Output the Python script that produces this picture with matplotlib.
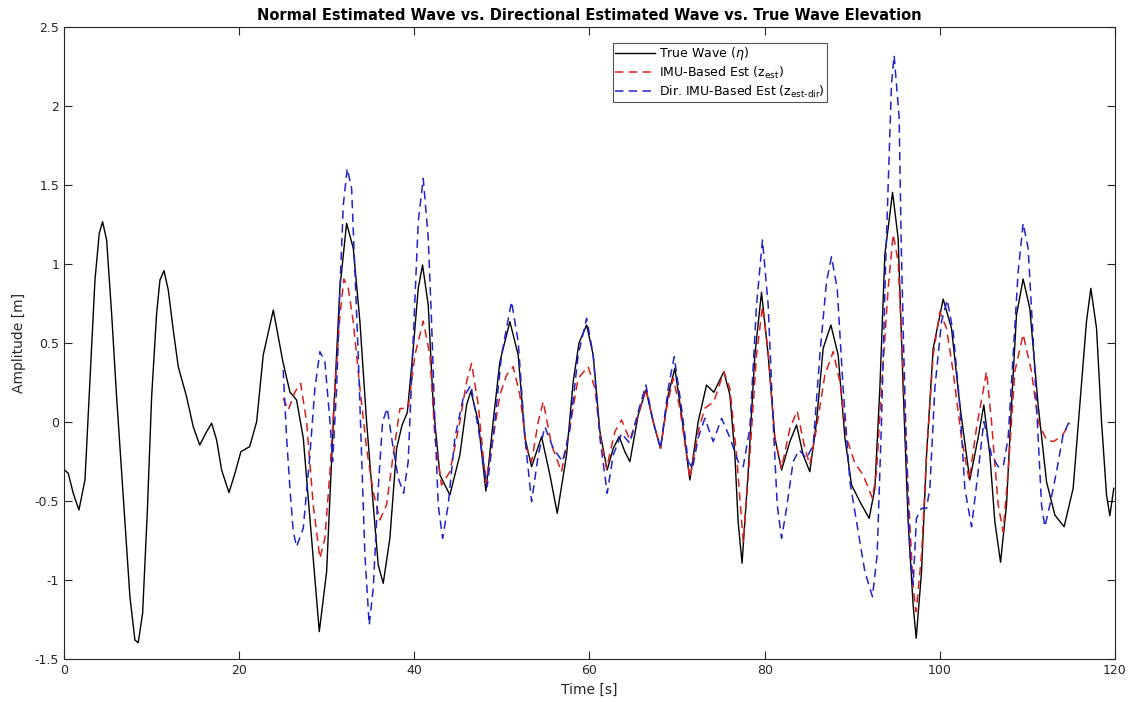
import matplotlib
matplotlib.use("Agg")
import matplotlib.pyplot as plt

# ---- data: true wave elevation (t [s], eta [m]) ----
true_t = [0.0, 0.49, 1.06, 1.71, 2.4, 2.97, 3.54, 4.03, 4.41, 4.87, 5.44, 6.01, 6.77, 7.53, 8.1, 8.48,
          8.98, 9.51, 10.01, 10.58, 10.96, 11.42, 11.91, 12.48, 13.05, 14.0, 14.76, 15.5, 16.29, 16.86,
          17.43, 18.0, 18.84, 19.52, 20.2, 21.2, 22.0, 22.75, 23.9, 25.0, 25.8, 26.56, 27.32, 28.27,
          29.15, 29.99, 30.75, 31.5, 32.27, 33.03, 33.79, 34.55, 35.31, 35.88, 36.45, 37.21, 37.98,
          38.6, 39.2, 39.88, 40.45, 40.94, 41.59, 42.16, 42.92, 44.06, 45.2, 45.97, 46.46, 47.3, 48.17,
          49.0, 49.77, 50.91, 51.86, 52.63, 53.39, 54.53, 55.48, 56.32, 57.38, 58.14, 58.8, 59.67,
          60.42, 61.19, 62.02, 62.71, 63.39, 64.04, 64.61, 65.56, 66.44, 67.27, 68.11, 68.99, 69.75,
          70.51, 71.46, 72.41, 73.36, 74.2, 75.34, 76.03, 76.6, 76.97, 77.42, 78.12, 78.88, 79.64,
          80.4, 81.16, 81.93, 82.88, 83.64, 84.4, 85.16, 85.92, 86.68, 87.56, 88.39, 89.16, 89.92,
          90.87, 91.93, 92.58, 93.15, 93.72, 94.6, 95.24, 95.81, 96.38, 96.95, 97.3, 97.91, 98.48,
          99.24, 100.38, 101.33, 102.28, 103.42, 104.37, 105.02, 105.71, 106.28, 106.93, 107.61,
          108.18, 108.75, 109.51, 110.27, 111.22, 112.18, 113.13, 114.19, 115.22, 115.98, 116.74,
          117.24, 117.89, 118.46, 119.03, 119.41, 119.86]
true_eta = [-0.30, -0.325, -0.451, -0.557, -0.367, 0.266, 0.899, 1.194, 1.268, 1.152, 0.688, 0.16,
            -0.473, -1.106, -1.38, -1.397, -1.211, -0.578, 0.16, 0.688, 0.899, 0.958, 0.835, 0.582,
            0.35, 0.16, -0.03, -0.146, -0.061, -0.008, -0.114, -0.304, -0.447, -0.325, -0.188,
            -0.156, 0.002, 0.424, 0.709, 0.38, 0.19, 0.139, -0.10, -0.736, -1.327, -0.947, 0.002,
            0.846, 1.257, 1.10, 0.635, 0.002, -0.525, -0.905, -1.021, -0.736, -0.167, -0.02, 0.06,
            0.466, 0.846, 0.994, 0.74, 0.108, -0.335, -0.462, -0.209, 0.108, 0.196, 0.002, -0.437,
            0.002, 0.382, 0.635, 0.424, -0.10, -0.283, -0.093, -0.335, -0.578, -0.209, 0.255, 0.50,
            0.614, 0.424, -0.061, -0.304, -0.167, -0.093, -0.188, -0.251, 0.044, 0.203, 0.002,
            -0.167, 0.171, 0.34, 0.044, -0.367, 0.002, 0.234, 0.188, 0.318, 0.171, -0.209, -0.631,
            -0.894, -0.315, 0.424, 0.821, 0.424, -0.10, -0.304, -0.124, -0.019, -0.209, -0.315,
            0.002, 0.466, 0.614, 0.424, -0.10, -0.399, -0.504, -0.61, -0.42, 0.213, 1.057, 1.454,
            1.163, 0.213, -0.631, -1.158, -1.369, -0.947, -0.209, 0.466, 0.778, 0.593, 0.108,
            -0.367, -0.10, 0.108, -0.209, -0.631, -0.888, -0.525, 0.108, 0.677, 0.905, 0.72, 0.108,
            -0.378, -0.589, -0.663, -0.42, 0.108, 0.635, 0.846, 0.593, 0.002, -0.462, -0.593, -0.42]

# ---- data: IMU-based estimate z_est ----
imu_t = [25.03, 25.6, 26.37, 27.02, 27.7, 28.46, 29.22, 29.79, 30.37, 30.94, 31.51, 31.96, 32.46,
         33.03, 33.79, 34.55, 35.31, 36.07, 36.83, 37.59, 38.36, 39.3, 40.07, 41.02, 41.78, 42.35,
         43.11, 44.06, 45.2, 45.97, 46.54, 47.3, 48.17, 49.0, 49.77, 50.53, 51.29, 52.05, 52.82,
         53.39, 54.15, 54.72, 55.67, 56.81, 57.76, 58.71, 59.85, 60.62, 61.26, 61.95, 62.9, 63.66,
         64.61, 65.56, 66.44, 67.27, 68.11, 68.8, 69.56, 70.32, 71.46, 72.41, 73.17, 74.2, 75.34,
         76.03, 76.79, 77.55, 78.31, 79.07, 79.75, 80.4, 81.16, 81.93, 82.88, 83.71, 84.59, 85.16,
         85.92, 86.87, 87.82, 88.58, 89.35, 90.3, 91.24, 92.31, 92.77, 93.34, 94.1, 94.67, 95.24,
         95.81, 96.38, 96.95, 97.3, 97.91, 98.48, 99.24, 100.0, 100.76, 101.52, 102.47, 103.35,
         104.18, 105.33, 105.9, 106.66, 107.23, 107.8, 108.56, 109.51, 110.47, 111.22, 112.18,
         112.93, 113.89, 114.84]
imu_z = [0.15, 0.076, 0.19, 0.245, 0.002, -0.525, -0.863, -0.736, -0.315, 0.213, 0.677, 0.905,
         0.846, 0.635, 0.213, -0.167, -0.441, -0.62, -0.525, -0.209, 0.085, 0.087, 0.424, 0.639,
         0.424, -0.10, -0.399, -0.315, 0.002, 0.255, 0.371, 0.108, -0.388, -0.10, 0.171, 0.297,
         0.35, 0.171, -0.167, -0.251, 0.002, 0.129, -0.146, -0.315, -0.03, 0.277, 0.35, 0.213,
         -0.10, -0.293, -0.061, 0.013, -0.114, 0.044, 0.213, 0.002, -0.167, 0.087, 0.277, 0.087,
         -0.356, -0.061, 0.087, 0.129, 0.318, 0.213, -0.209, -0.757, -0.209, 0.424, 0.73, 0.445,
         -0.10, -0.293, -0.04, 0.07, -0.167, -0.272, -0.04, 0.297, 0.445, 0.255, -0.10, -0.261,
         -0.335, -0.483, -0.315, 0.213, 0.846, 1.188, 1.015, 0.318, -0.42, -1.053, -1.2, -0.842,
         -0.209, 0.424, 0.698, 0.593, 0.318, -0.10, -0.367, -0.04, 0.318, 0.002, -0.525, -0.694,
         -0.315, 0.318, 0.555, 0.318, 0.002, -0.114, -0.124, -0.093, -0.008]

# ---- data: directional IMU-based estimate z_est-dir ----
dir_t = [25.03, 25.42, 25.8, 26.18, 26.56, 27.32, 28.08, 28.65, 29.22, 29.79, 30.37, 30.67, 31.13,
         31.51, 31.89, 32.34, 32.84, 33.22, 33.6, 33.98, 34.36, 34.85, 35.31, 35.88, 36.38, 36.91,
         37.59, 38.17, 38.78, 39.3, 39.88, 40.45, 41.02, 41.59, 41.97, 42.35, 42.73, 43.23, 43.87,
         44.63, 45.58, 46.46, 47.3, 48.32, 49.2, 49.96, 51.1, 51.86, 52.63, 53.39, 54.15, 54.91,
         55.86, 56.93, 57.76, 58.71, 59.67, 60.42, 61.19, 62.02, 62.71, 63.66, 64.61, 65.56, 66.44,
         67.27, 68.11, 68.99, 69.67, 70.51, 71.27, 71.77, 72.41, 73.17, 74.12, 75.08, 76.03, 76.97,
         77.55, 78.31, 79.07, 79.75, 80.4, 80.97, 81.43, 81.93, 82.5, 83.25, 83.94, 84.78, 85.54,
         86.3, 87.06, 87.63, 88.28, 88.96, 89.73, 90.49, 91.44, 92.31, 92.84, 93.34, 93.84, 94.48,
         94.78, 95.35, 95.6, 95.9, 96.3, 96.6, 96.95, 97.33, 97.91, 98.48, 98.86, 99.43, 100.19,
         100.84, 101.52, 102.28, 102.85, 103.62, 104.37, 105.02, 105.9, 106.66, 107.23, 107.8,
         108.37, 108.94, 109.51, 110.08, 110.65, 111.22, 111.61, 111.99, 112.56, 113.32, 114.07,
         114.76]
dir_z = [0.329, -0.10, -0.42, -0.694, -0.789, -0.673, -0.209, 0.213, 0.445, 0.382, 0.002, -0.251,
         0.213, 0.846, 1.373, 1.605, 1.479, 0.951, 0.424, -0.209, -0.842, -1.285, -1.053, -0.42,
         0.002, 0.087, -0.167, -0.356, -0.451, -0.25, 0.53, 1.268, 1.542, 1.163, 0.635, 0.002,
         -0.525, -0.736, -0.525, -0.10, 0.15, 0.234, -0.04, -0.409, 0.002, 0.424, 0.762, 0.508,
         -0.10, -0.504, -0.209, -0.03, -0.167, -0.251, -0.05, 0.424, 0.656, 0.424, -0.10, -0.451,
         -0.209, -0.072, -0.135, 0.065, 0.234, 0.002, -0.167, 0.213, 0.413, 0.087, -0.251, -0.293,
         -0.10, 0.023, -0.124, 0.023, -0.10, -0.251, -0.283, -0.04, 0.74, 1.152, 0.74, 0.002,
         -0.525, -0.736, -0.546, -0.251, -0.177, -0.23, -0.146, 0.424, 0.888, 1.046, 0.846, 0.213,
         -0.378, -0.631, -0.947, -1.106, -0.842, 0.002, 1.057, 2.14, 2.32, 1.93, 1.1, 0.4, -0.4,
         -0.85, -1.03, -0.61, -0.546, -0.546, -0.42, 0.213, 0.635, 0.772, 0.571, 0.108, -0.42,
         -0.663, -0.315, 0.002, -0.209, -0.283, -0.283, -0.10, 0.424, 0.951, 1.257, 1.10, 0.53,
         -0.10, -0.525, -0.663, -0.525, -0.315, -0.082, 0.002]

x_ticks = [0, 20, 40, 60, 80, 100, 120]
y_ticks = [-1.5, -1, -0.5, 0, 0.5, 1, 1.5, 2, 2.5]
y_tick_labels = ["-1.5", "-1", "-0.5", "0", "0.5", "1", "1.5", "2", "2.5"]

plt.rcParams["font.family"] = ["DejaVu Sans"]
text_gray = "#262626"

fig = plt.figure(figsize=(11.32, 7.02), dpi=100)
ax = fig.add_axes([0.0565, 0.0613, 0.9285, 0.9002])

ax.plot(true_t, true_eta, color="black", lw=1.0, solid_joinstyle="round",
        label=r"True Wave ($\eta$)")
ax.plot(imu_t, imu_z, color="#d42020", lw=1.1, linestyle=(0, (5.5, 3.5)),
        dash_joinstyle="round", label=r"IMU-Based Est (z$_{\text{est}}$)")
ax.plot(dir_t, dir_z, color="#2222cc", lw=1.1, linestyle=(0, (5.5, 3.5)),
        dash_joinstyle="round", label=r"Dir. IMU-Based Est (z$_{\text{est-dir}}$)")

ax.set_xlim(0, 120)
ax.set_ylim(-1.5, 2.5)
ax.set_xticks(x_ticks)
ax.set_xticklabels([str(v) for v in x_ticks])
ax.set_yticks(y_ticks)
ax.set_yticklabels(y_tick_labels)
ax.tick_params(direction="in", length=6, width=0.8, colors=text_gray, labelsize=9,
               top=True, right=True)
for sp in ax.spines.values():
    sp.set_color(text_gray)
    sp.set_linewidth(0.8)

ax.set_xlabel("Time [s]", fontsize=10, color=text_gray, labelpad=4)
ax.set_ylabel("Amplitude [m]", fontsize=10, color=text_gray, labelpad=6)
ax.set_title("Normal Estimated Wave vs. Directional Estimated Wave vs. True Wave Elevation",
             fontsize=10.5, fontweight="bold", pad=5)

leg = ax.legend(loc="upper left", bbox_to_anchor=(0.522, 0.975), borderaxespad=0,
                fontsize=9, frameon=True, fancybox=False, handlelength=3.2,
                handletextpad=0.3, borderpad=0.2, labelspacing=0.2)
leg.get_frame().set_edgecolor(text_gray)
leg.get_frame().set_linewidth(0.8)

fig.savefig("out.png", dpi=100)
